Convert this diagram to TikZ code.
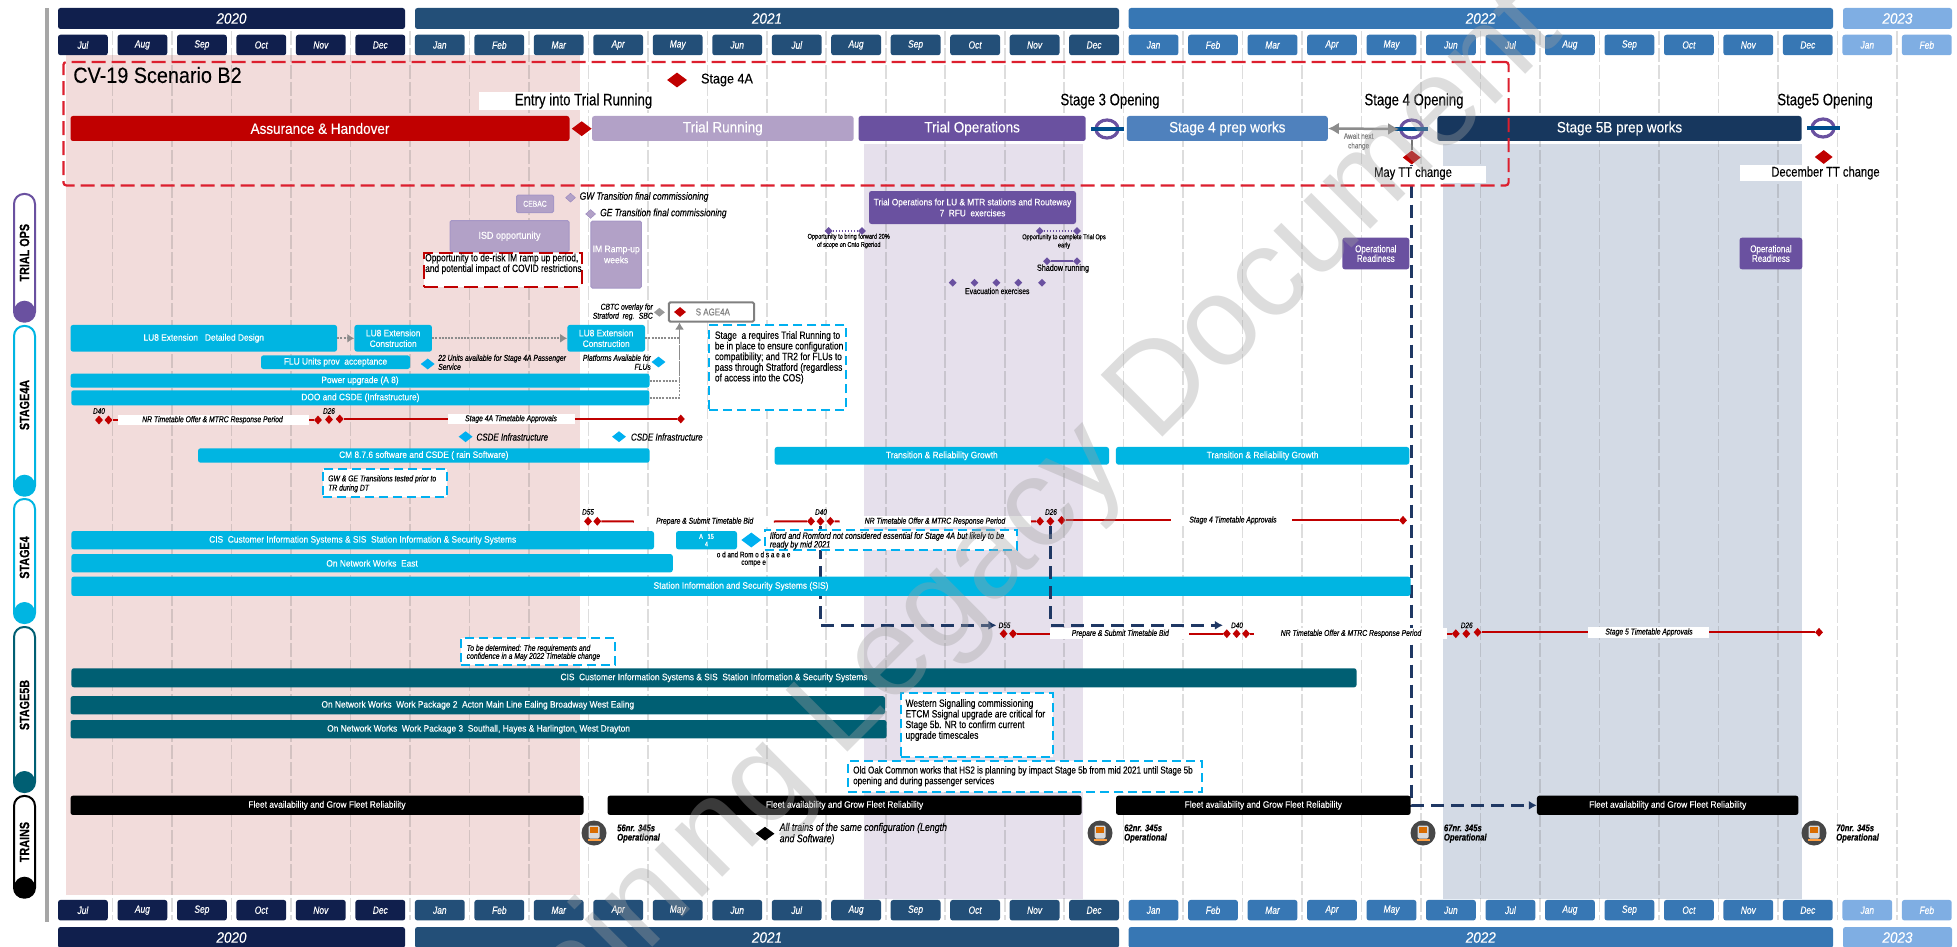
\documentclass[tikz,border=0pt]{standalone}
\usepackage{xcolor}
\usepackage{fontspec}
\setmainfont[FakeStretch=0.9,FakeBold=0.25]{Liberation Sans}
\newfontfamily\narrowfont[FakeStretch=0.8,FakeBold=0.25]{Liberation Sans}
\newfontfamily\markfont{Liberation Sans}
\usetikzlibrary{positioning, shapes.geometric, arrows.meta, calc}

\definecolor{yearone}{HTML}{101F4D}
\definecolor{yeartwo}{HTML}{234F78}
\definecolor{yearthree}{HTML}{3777B4}
\definecolor{yearfour}{HTML}{7FAEE3}
\definecolor{dashred}{HTML}{DC1F2E}
\definecolor{deepred}{HTML}{C00000}
\definecolor{lavender}{HTML}{B2A1C7}
\definecolor{deeppurple}{HTML}{6A51A0}
\definecolor{prepblue}{HTML}{4F81BD}
\definecolor{prepnavy}{HTML}{17375E}
\definecolor{cyanbar}{HTML}{00B5E2}
\definecolor{notecyan}{HTML}{00B0F0}
\definecolor{tealbar}{HTML}{005F73}
\definecolor{pinkzone}{HTML}{F2DCDB}
\definecolor{lilaczone}{HTML}{E6E0EC}
\definecolor{slatezone}{HTML}{D3DAE5}
\definecolor{linenavy}{HTML}{1F3864}

\tikzset{
	monthbox/.style={rectangle, rounded corners=2.5, minimum width=49.8, minimum height=20.5, inner sep=0, text=white, font=\narrowfont\itshape\fontsize{10.5}{10.5}\selectfont},
	yearbox/.style={rectangle, rounded corners=2.5, minimum height=21, inner sep=0, text=white, font=\itshape\fontsize{15}{15}\selectfont},
	gridline/.style={draw=black!60, opacity=0.22, line width=1.6, dash pattern=on 14pt off 3pt},
	phasebar/.style={rectangle, rounded corners=2.5, minimum height=25, inner sep=0, text=white, font=\fontsize{15}{15}\selectfont},
	workbar/.style={rectangle, rounded corners=2.5, inner sep=0, text=white, align=center, font=\fontsize{9.3}{10.6}\selectfont},
	headtext/.style={inner sep=0, font=\narrowfont\fontsize{16.5}{16.5}\selectfont},
	changetext/.style={inner sep=0, font=\narrowfont\fontsize{14}{14}\selectfont},
	whitemask/.style={rectangle, fill=white, inner sep=0},
	notetext/.style={inner sep=0, align=left, font=\narrowfont\fontsize{10.5}{10.65}\selectfont},
	smalltext/.style={inner sep=0, align=left, font=\narrowfont\itshape\fontsize{8.5}{9}\selectfont},
	tinytext/.style={inner sep=0, align=center, font=\narrowfont\fontsize{7}{8.2}\selectfont},
	cyannote/.style={rectangle, fill=white, draw=notecyan, line width=2, dash pattern=on 9pt off 5pt, inner sep=0},
	reddash/.style={rectangle, draw=dashred, line width=2.2, dash pattern=on 14pt off 6pt, inner sep=0, rounded corners=3},
	bigdiamond/.style={diamond, fill=deepred, inner sep=0, minimum width=20, minimum height=15},
	redtick/.style={diamond, fill=deepred, inner sep=0, minimum width=8, minimum height=9},
	cyandiamond/.style={diamond, fill=notecyan, inner sep=0, minimum width=14, minimum height=11},
	lilacdiamond/.style={diamond, fill=lavender, draw=deeppurple!70, inner sep=0, minimum width=10, minimum height=9},
	purpletick/.style={diamond, fill=deeppurple, inner sep=0, minimum width=8, minimum height=8},
	redline/.style={draw=deepred, line width=2},
	navydash/.style={draw=linenavy, line width=2.5, dash pattern=on 13pt off 7pt, -{Latex[length=8pt,width=9pt]}},
	dotgrey/.style={draw=black!45, line width=1.8, dash pattern=on 2pt off 1.2pt},
	ringnode/.style={ellipse, draw=deeppurple, line width=3.2, fill=white, inner sep=0, minimum width=22, minimum height=18},
	ringbar/.style={rectangle, fill=blue!45!cyan!55!black, inner sep=0, minimum width=33, minimum height=4.5},
	rowcap/.style={rectangle, rounded corners=10, fill=white, line width=2, minimum width=21, inner sep=0},
	rowdot/.style={circle, inner sep=0, minimum size=21},
	rowtext/.style={rotate=90, inner sep=0, font=\narrowfont\bfseries\fontsize{13.5}{13.5}\selectfont},
	trainround/.style={circle, fill=black!72, inner sep=0, minimum size=25},
	trainbody/.style={rectangle, rounded corners=1.5, fill=white!85!black, inner sep=0, minimum width=11, minimum height=13},
	trainglass/.style={rectangle, fill=orange!85!black, inner sep=0, minimum width=8, minimum height=6},
	trainfoot/.style={rectangle, fill=orange!75!white, inner sep=0, minimum width=13, minimum height=1.8},
	fleettext/.style={inner sep=0, align=left, font=\narrowfont\bfseries\itshape\fontsize{9.6}{9.3}\selectfont},
	markmark/.style={inner sep=2, font=\narrowfont\itshape\fontsize{8}{8}\selectfont},
}

\begin{document}
\begin{tikzpicture}[x=1pt, y=-1pt]
	\useasboundingbox (0,0) rectangle (1957,947);
	\clip (0,0) rectangle (1957,947);
	% shaded periods
	\fill[pinkzone] (66,55) rectangle (579.5,895);
	\fill[lilaczone] (864,144) rectangle (1082.6,899);
	\fill[slatezone] (1443,144) rectangle (1801.5,899);
	% month lines
	\draw[gridline] (112.5,31) -- (112.5,920);
	\draw[gridline] (172,31) -- (172,920);
	\draw[gridline] (231.4,31) -- (231.4,920);
	\draw[gridline] (290.9,31) -- (290.9,920);
	\draw[gridline] (350.4,31) -- (350.4,920);
	\draw[gridline] (409.9,31) -- (409.9,920);
	\draw[gridline] (469.4,31) -- (469.4,920);
	\draw[gridline] (528.8,31) -- (528.8,920);
	\draw[gridline] (588.3,31) -- (588.3,920);
	\draw[gridline] (647.8,31) -- (647.8,920);
	\draw[gridline] (707.3,31) -- (707.3,920);
	\draw[gridline] (766.8,31) -- (766.8,920);
	\draw[gridline] (826.2,31) -- (826.2,920);
	\draw[gridline] (885.7,31) -- (885.7,920);
	\draw[gridline] (945.2,31) -- (945.2,920);
	\draw[gridline] (1004.7,31) -- (1004.7,920);
	\draw[gridline] (1064.2,31) -- (1064.2,920);
	\draw[gridline] (1123.6,31) -- (1123.6,920);
	\draw[gridline] (1183.1,31) -- (1183.1,920);
	\draw[gridline] (1242.6,31) -- (1242.6,920);
	\draw[gridline] (1302.1,31) -- (1302.1,920);
	\draw[gridline] (1361.6,31) -- (1361.6,920);
	\draw[gridline] (1421,31) -- (1421,920);
	\draw[gridline] (1480.5,31) -- (1480.5,920);
	\draw[gridline] (1540,31) -- (1540,920);
	\draw[gridline] (1599.5,31) -- (1599.5,920);
	\draw[gridline] (1659,31) -- (1659,920);
	\draw[gridline] (1718.4,31) -- (1718.4,920);
	\draw[gridline] (1777.9,31) -- (1777.9,920);
	\draw[gridline] (1837.4,31) -- (1837.4,920);
	\draw[gridline] (1896.9,31) -- (1896.9,920);
	\fill[black!35] (45.3,8) rectangle (48.7,921.7);
	% years
	\node[yearbox, fill=yearone, minimum width=347] (ytop20) at (231.5,18.5) {2020};
	\node[yearbox, fill=yeartwo, minimum width=704] (ytop21) at (767,18.5) {2021};
	\node[yearbox, fill=yearthree, minimum width=704.4] (ytop22) at (1480.8,18.5) {2022};
	\node[yearbox, fill=yearfour, minimum width=109] (ytop23) at (1897.5,18.5) {2023};
	\node[yearbox, fill=yearone, minimum width=347] (ybot20) at (231.5,937.5) {2020};
	\node[yearbox, fill=yeartwo, minimum width=704] (ybot21) at (767,937.5) {2021};
	\node[yearbox, fill=yearthree, minimum width=704.4] (ybot22) at (1480.8,937.5) {2022};
	\node[yearbox, fill=yearfour, minimum width=109] (ybot23) at (1897.5,937.5) {2023};
	% months, top row
	\node[monthbox, fill=yearone] (t00) at (82.9,45) {Jul};
	\node[monthbox, fill=yearone] (t01) at (142.4,45) {Aug};
	\node[monthbox, fill=yearone] (t02) at (201.9,45) {Sep};
	\node[monthbox, fill=yearone] (t03) at (261.3,45) {Oct};
	\node[monthbox, fill=yearone] (t04) at (320.8,45) {Nov};
	\node[monthbox, fill=yearone] (t05) at (380.3,45) {Dec};
	\node[monthbox, fill=yeartwo] (t06) at (439.8,45) {Jan};
	\node[monthbox, fill=yeartwo] (t07) at (499.3,45) {Feb};
	\node[monthbox, fill=yeartwo] (t08) at (558.7,45) {Mar};
	\node[monthbox, fill=yeartwo] (t09) at (618.2,45) {Apr};
	\node[monthbox, fill=yeartwo] (t10) at (677.7,45) {May};
	\node[monthbox, fill=yeartwo] (t11) at (737.2,45) {Jun};
	\node[monthbox, fill=yeartwo] (t12) at (796.7,45) {Jul};
	\node[monthbox, fill=yeartwo] (t13) at (856.1,45) {Aug};
	\node[monthbox, fill=yeartwo] (t14) at (915.6,45) {Sep};
	\node[monthbox, fill=yeartwo] (t15) at (975.1,45) {Oct};
	\node[monthbox, fill=yeartwo] (t16) at (1034.6,45) {Nov};
	\node[monthbox, fill=yeartwo] (t17) at (1094.1,45) {Dec};
	\node[monthbox, fill=yearthree] (t18) at (1153.5,45) {Jan};
	\node[monthbox, fill=yearthree] (t19) at (1213,45) {Feb};
	\node[monthbox, fill=yearthree] (t20) at (1272.5,45) {Mar};
	\node[monthbox, fill=yearthree] (t21) at (1332,45) {Apr};
	\node[monthbox, fill=yearthree] (t22) at (1391.5,45) {May};
	\node[monthbox, fill=yearthree] (t23) at (1450.9,45) {Jun};
	\node[monthbox, fill=yearthree] (t24) at (1510.4,45) {Jul};
	\node[monthbox, fill=yearthree] (t25) at (1569.9,45) {Aug};
	\node[monthbox, fill=yearthree] (t26) at (1629.4,45) {Sep};
	\node[monthbox, fill=yearthree] (t27) at (1688.9,45) {Oct};
	\node[monthbox, fill=yearthree] (t28) at (1748.3,45) {Nov};
	\node[monthbox, fill=yearthree] (t29) at (1807.8,45) {Dec};
	\node[monthbox, fill=yearfour] (t30) at (1867.3,45) {Jan};
	\node[monthbox, fill=yearfour] (t31) at (1926.8,45) {Feb};
	% months, bottom row
	\node[monthbox, fill=yearone] (b00) at (82.9,910.2) {Jul};
	\node[monthbox, fill=yearone] (b01) at (142.4,910.2) {Aug};
	\node[monthbox, fill=yearone] (b02) at (201.9,910.2) {Sep};
	\node[monthbox, fill=yearone] (b03) at (261.3,910.2) {Oct};
	\node[monthbox, fill=yearone] (b04) at (320.8,910.2) {Nov};
	\node[monthbox, fill=yearone] (b05) at (380.3,910.2) {Dec};
	\node[monthbox, fill=yeartwo] (b06) at (439.8,910.2) {Jan};
	\node[monthbox, fill=yeartwo] (b07) at (499.3,910.2) {Feb};
	\node[monthbox, fill=yeartwo] (b08) at (558.7,910.2) {Mar};
	\node[monthbox, fill=yeartwo] (b09) at (618.2,910.2) {Apr};
	\node[monthbox, fill=yeartwo] (b10) at (677.7,910.2) {May};
	\node[monthbox, fill=yeartwo] (b11) at (737.2,910.2) {Jun};
	\node[monthbox, fill=yeartwo] (b12) at (796.7,910.2) {Jul};
	\node[monthbox, fill=yeartwo] (b13) at (856.1,910.2) {Aug};
	\node[monthbox, fill=yeartwo] (b14) at (915.6,910.2) {Sep};
	\node[monthbox, fill=yeartwo] (b15) at (975.1,910.2) {Oct};
	\node[monthbox, fill=yeartwo] (b16) at (1034.6,910.2) {Nov};
	\node[monthbox, fill=yeartwo] (b17) at (1094.1,910.2) {Dec};
	\node[monthbox, fill=yearthree] (b18) at (1153.5,910.2) {Jan};
	\node[monthbox, fill=yearthree] (b19) at (1213,910.2) {Feb};
	\node[monthbox, fill=yearthree] (b20) at (1272.5,910.2) {Mar};
	\node[monthbox, fill=yearthree] (b21) at (1332,910.2) {Apr};
	\node[monthbox, fill=yearthree] (b22) at (1391.5,910.2) {May};
	\node[monthbox, fill=yearthree] (b23) at (1450.9,910.2) {Jun};
	\node[monthbox, fill=yearthree] (b24) at (1510.4,910.2) {Jul};
	\node[monthbox, fill=yearthree] (b25) at (1569.9,910.2) {Aug};
	\node[monthbox, fill=yearthree] (b26) at (1629.4,910.2) {Sep};
	\node[monthbox, fill=yearthree] (b27) at (1688.9,910.2) {Oct};
	\node[monthbox, fill=yearthree] (b28) at (1748.3,910.2) {Nov};
	\node[monthbox, fill=yearthree] (b29) at (1807.8,910.2) {Dec};
	\node[monthbox, fill=yearfour] (b30) at (1867.3,910.2) {Jan};
	\node[monthbox, fill=yearfour] (b31) at (1926.8,910.2) {Feb};
	% row labels on the left
	\node[rowcap, draw=deeppurple, minimum height=127.7] (capops) at (24.5,257.8) {};
	\node[rowdot, fill=deeppurple] (dotops) at (24.5,311.2) {};
	\node[rowtext] (txtops) at (24.5,252.7) {TRIAL OPS};
	\node[rowcap, draw=cyanbar, minimum height=169.7] (cap4a) at (24.5,410.8) {};
	\node[rowdot, fill=cyanbar] (dot4a) at (24.5,485.2) {};
	\node[rowtext] (txt4a) at (24.5,405) {STAGE4A};
	\node[rowcap, draw=cyanbar, minimum height=124] (cap4) at (24.5,561) {};
	\node[rowdot, fill=cyanbar] (dot4) at (24.5,612.5) {};
	\node[rowtext] (txt4) at (24.5,557.5) {STAGE4};
	\node[rowcap, draw=tealbar, minimum height=165] (cap5b) at (24.5,709.5) {};
	\node[rowdot, fill=tealbar] (dot5b) at (24.5,781.5) {};
	\node[rowtext] (txt5b) at (24.5,705) {STAGE5B};
	\node[rowcap, draw=black, minimum height=101.7] (captr) at (24.5,846.8) {};
	\node[rowdot, fill=black] (dottr) at (24.5,887.2) {};
	\node[rowtext] (txttr) at (24.5,842) {TRAINS};
	% header phases
	\node[inner sep=0, font=\fontsize{22}{22}\selectfont] (scentitle) at (157.5,75) {CV-19 Scenario B2};
	\node[bigdiamond] (ms4a) at (677,80) {};
	\node[headtext, font=\fontsize{14}{14}\selectfont] (txt4ahead) at (727,80) {Stage 4A};
	\node[whitemask, minimum width=176.4, minimum height=18] (entrymask) at (566.8,101) {};
	\node[headtext] (entrytxt) at (583.5,101) {Entry into Trial Running};
	\node[phasebar, fill=deepred, minimum width=499] (assure) at (320,128.5) {Assurance \& Handover};
	\node[bigdiamond] (msentry) at (581.7,128.7) {};
	\node[phasebar, fill=lavender, minimum width=261.6] (trialrun) at (722.8,128.5) {Trial Running};
	\node[phasebar, fill=deeppurple, minimum width=227.2] (trialops) at (972.1,128.5) {Trial Operations};
	\node[ringnode] (ringa) at (1107,129) {};
	\node[ringbar] (bara) at (1107,129) {};
	\node[phasebar, fill=prepblue, minimum width=200.9] (prep4) at (1227.3,128.5) {Stage 4 prep works};
	\node[ringnode] (ringb) at (1411.7,129) {};
	\node[ringbar] (barb) at (1411.7,129) {};
	\node[phasebar, fill=prepnavy, minimum width=364.1] (prep5) at (1619.5,128.5) {Stage 5B prep works};
	\node[ringnode] (ringc) at (1823,128) {};
	\node[ringbar] (barc) at (1823,128) {};
	\node[headtext] (open3) at (1110,101) {Stage 3 Opening};
	\node[headtext] (open4) at (1414,101) {Stage 4 Opening};
	\node[headtext] (open5) at (1825,101) {Stage5 Opening};
	\draw[draw=black!45, line width=2.5, {Latex[length=11pt,width=12pt]}-{Latex[length=11pt,width=12pt]}] (prep4.east) -- (ringb.west);
	\node[tinytext, text=black!50, font=\narrowfont\fontsize{8}{9.6}\selectfont] (awaittxt) at (1358.6,141.5) {Await next\\change};
	\node[bigdiamond, minimum width=18, minimum height=14] (msmay) at (1411.7,157.5) {};
	\node[bigdiamond, minimum width=18, minimum height=14] (msdec) at (1823.7,157) {};
	\draw[draw=black!55, line width=2] (ringb.south) -- (msmay.north);
	% timetable changes and links down to the fleet
	\node[workbar, fill=black, minimum width=261.5, minimum height=19.3] (fleetd) at (1667.7,805.3) {Fleet availability and Grow Fleet Reliability};
	\draw[navydash] (msmay.south) |- (fleetd.west);
	\node[whitemask, minimum width=111, minimum height=17] (maymask) at (1430.5,174) {};
	\node[changetext] (maytxt) at (1413,173.3) {May TT change};
	\node[whitemask, minimum width=155, minimum height=16] (decmask) at (1817.5,173) {};
	\node[changetext] (dectxt) at (1825.5,173) {December TT change};
	% trial ops row
	\node[rectangle, rounded corners=1.5, fill=lavender, draw=deeppurple!60, line width=1, minimum width=37, minimum height=17.5, inner sep=0, text=white, font=\narrowfont\fontsize{8.5}{8.5}\selectfont] (cebac) at (535,203.8) {CEBAC};
	\node[lilacdiamond] (msgw) at (570.5,197.7) {};
	\node[smalltext, anchor=west, font=\narrowfont\itshape\fontsize{10.5}{10.5}\selectfont] (txtgw) at (579.5,197) {GW Transition final commissioning};
	\node[lilacdiamond] (msge) at (590.6,214) {};
	\node[smalltext, anchor=west, font=\narrowfont\itshape\fontsize{10.5}{10.5}\selectfont] (txtge) at (600,213.5) {GE Transition final commissioning};
	\node[rectangle, rounded corners=1.5, fill=lavender, draw=deeppurple!60, line width=1, minimum width=119, minimum height=31, inner sep=0, text=white, font=\fontsize{10}{10}\selectfont] (isdbox) at (509.5,236.2) {ISD opportunity};
	\node[rectangle, rounded corners=1.5, fill=lavender, draw=deeppurple!60, line width=1, minimum width=50.5, minimum height=67, inner sep=0, text=white, align=center, font=\fontsize{9.5}{11}\selectfont] (imbox) at (616.2,254.5) {IM Ramp-up\\weeks};
	\node[reddash, fill=white, draw=deepred, minimum width=157.7, minimum height=33.4, rounded corners=0] (isdnote) at (502.9,270) {};
	\node[notetext, anchor=north west] (isdtxt) at (425,253.5) {Opportunity to de-risk IM ramp up period,\\and potential impact of COVID restrictions};
	\node[workbar, fill=deeppurple, minimum width=207, minimum height=33, font=\fontsize{9.2}{11}\selectfont] (opsnote) at (972.5,207.5) {Trial Operations for LU \& MTR stations and Routeway\\7 \ RFU \ exercises};
	\node[purpletick] (oppa) at (828.6,231) {};
	\node[purpletick] (oppb) at (862,231) {};
	\draw[draw=deeppurple, line width=1.5, dash pattern=on 1.5pt off 1.5pt] (oppa) -- (oppb);
	\node[tinytext] (opptxta) at (848.7,241) {Opportunity to bring forward 20\%\\of scope on Cnto Rgeriod};
	\node[purpletick] (oppc) at (1039.7,231) {};
	\node[purpletick] (oppd) at (1077,231) {};
	\draw[draw=deeppurple, line width=1.5, dash pattern=on 1.5pt off 1.5pt] (oppc) -- (oppd);
	\node[tinytext] (opptxtb) at (1064,241.5) {Opportunity to complete Trial Ops\\early};
	\node[purpletick] (shada) at (1047,261.3) {};
	\node[purpletick] (shadb) at (1077,261.3) {};
	\draw[draw=deeppurple, line width=2] (shada) -- (shadb);
	\node[tinytext, font=\narrowfont\fontsize{9}{9}\selectfont] (shadtxt) at (1063,268.5) {Shadow running};
	\node[purpletick] (evaca) at (952.7,282.7) {};
	\node[purpletick] (evacb) at (974.5,282.7) {};
	\node[purpletick] (evacc) at (996.4,282.7) {};
	\node[purpletick] (evacd) at (1018.3,282.7) {};
	\node[purpletick] (evace) at (1042,282.7) {};
	\node[tinytext, font=\narrowfont\fontsize{8.5}{8.5}\selectfont] (evactxt) at (997.3,291) {Evacuation exercises};
	\node[workbar, fill=deeppurple, minimum width=67, minimum height=31.6, font=\narrowfont\fontsize{10}{9.6}\selectfont] (readya) at (1375.8,253.5) {Operational\\Readiness};
	\node[workbar, fill=deeppurple, minimum width=62.8, minimum height=31.6, font=\narrowfont\fontsize{10}{9.6}\selectfont] (readyb) at (1770.9,253.5) {Operational\\Readiness};
	% stage 4a row
	\node[smalltext, anchor=east, align=right] (cbtctxt) at (653,312) {CBTC overlay for\\Stratford \ reg. \ SBC};
	\node[diamond, fill=black!40, inner sep=0, minimum width=11, minimum height=9] (cbtcms) at (659.4,312.3) {};
	\node[rectangle, rounded corners=1.5, fill=white, draw=black!50, line width=2, minimum width=85.2, minimum height=19.4, inner sep=0] (stagebox) at (711.4,312) {};
	\node[redtick, minimum width=12, minimum height=10] (stagems) at (680,312) {};
	\node[inner sep=0, anchor=west, text=black!50, font=\narrowfont\fontsize{10}{10}\selectfont] (stagetxt) at (695.5,312) {S AGE4A};
	\coordinate (stagein) at (679.5,322.5);
	\node[workbar, fill=cyanbar, minimum width=266.5, minimum height=26.7] (lu8a) at (203.8,338.3) {LU8 Extension \ \ Detailed Design};
	\node[workbar, fill=cyanbar, minimum width=77.5, minimum height=26.7] (lu8b) at (393.2,338.3) {LU8 Extension\\Construction};
	\node[workbar, fill=cyanbar, minimum width=77.6, minimum height=26.7] (lu8c) at (606.2,338.3) {LU8 Extension\\Construction};
	\draw[dotgrey, -{Latex[length=7pt,width=9pt]}] (lu8a) -- (lu8b);
	\draw[dotgrey, -{Latex[length=7pt,width=9pt]}] (lu8b) -- (lu8c);
	\node[workbar, fill=cyanbar, minimum width=149, minimum height=13.7] (flubar) at (335.5,362.2) {FLU Units prov \ acceptance};
	\node[cyandiamond] (msfluA) at (427.7,364) {};
	\node[smalltext, anchor=west] (fluAtxt) at (438,362.3) {22 Units available for Stage 4A Passenger\\Service};
	\node[smalltext, anchor=east, align=right] (fluBtxt) at (651,362.3) {Platforms Available for\\FLUs};
	\node[cyandiamond] (msfluB) at (658.5,362) {};
	\node[workbar, fill=cyanbar, minimum width=579, minimum height=14] (powerbar) at (360,380.7) {Power upgrade (A 8)};
	\node[workbar, fill=cyanbar, minimum width=578.1, minimum height=15] (doobar) at (360.4,397.8) {DOO and CSDE (Infrastructure)};
	\draw[dotgrey] (lu8c.east) -| (stagein);
	\draw[dotgrey] (powerbar.east) -| (stagein);
	\draw[dotgrey, -{Latex[length=7pt,width=9pt]}] (doobar.east) -| (stagein);
	\node[markmark] (d40a) at (99,411) {D40};
	\node[markmark] (d26a) at (329,411) {D26};
	\node[redtick] (ra1) at (99,420) {};
	\node[redtick] (ra2) at (108.5,420) {};
	\node[whitemask, minimum width=191, minimum height=10.5] (lbla) at (213.5,420) {};
	\node[smalltext] (lblatxt) at (212.5,420) {NR Timetable Offer \& MTRC Response Period};
	\node[redtick] (ra3) at (318,420) {};
	\node[redtick] (ra4) at (329,419.5) {};
	\node[redtick] (ra5) at (339.7,419) {};
	\node[whitemask, minimum width=126.7, minimum height=10.5] (lblb) at (511.2,419) {};
	\node[smalltext] (lblbtxt) at (511,419) {Stage 4A Timetable Approvals};
	\node[redtick] (ra6) at (680.8,419) {};
	\draw[redline] (ra2) -- (lbla.west);
	\draw[redline] (lbla.east) -- (ra3);
	\draw[redline] (ra5) -- (lblb.west);
	\draw[redline] (lblb.east) -- (ra6);
	\node[cyandiamond] (mscsa) at (465.6,436.7) {};
	\node[smalltext, anchor=west, font=\narrowfont\itshape\fontsize{10}{10}\selectfont] (cstxta) at (476.3,437) {CSDE Infrastructure};
	\node[cyandiamond] (mscsb) at (619,436.7) {};
	\node[smalltext, anchor=west, font=\narrowfont\itshape\fontsize{10}{10}\selectfont] (cstxtb) at (630.8,437) {CSDE Infrastructure};
	\node[workbar, fill=cyanbar, minimum width=451.5, minimum height=14.4] (cmbar) at (423.8,455.5) {CM 8.7.6 software and CSDE ( rain Software)};
	\node[workbar, fill=cyanbar, minimum width=334.4, minimum height=17.7] (relya) at (941.8,455.8) {Transition \& Reliability Growth};
	\node[workbar, fill=cyanbar, minimum width=293.3, minimum height=17.7] (relyb) at (1262.6,455.8) {Transition \& Reliability Growth};
	\node[cyannote, minimum width=124.5, minimum height=27.7] (gwnote) at (385,482.8) {};
	\node[smalltext, anchor=north west, font=\narrowfont\itshape\fontsize{8.5}{9.3}\selectfont] (gwtxt) at (328,475) {GW \& GE Transitions tested prior to\\TR during DT};
	\node[cyannote, minimum width=137, minimum height=85] (cfgnote) at (777.9,367.5) {};
	\node[notetext, anchor=north west] (cfgtxt) at (714.7,331) {Stage \ a requires Trial Running to\\be in place to ensure configuration\\compatibility; and TR2 for FLUs to\\pass through Stratford (regardless\\of access into the COS)};
	% stage 4 row
	\node[markmark] (d55b) at (588,512) {D55};
	\node[markmark] (d40b) at (821,512) {D40};
	\node[markmark] (d26b) at (1051,512) {D26};
	\node[redtick] (rb1) at (588,521.3) {};
	\node[redtick] (rb2) at (597.3,521.3) {};
	\node[whitemask, minimum width=139.7, minimum height=11] (lblc) at (703.9,521.5) {};
	\node[smalltext] (lblctxt) at (704.7,521.5) {Prepare \& Submit Timetable Bid};
	\node[redtick] (rb3) at (811,521.3) {};
	\node[redtick] (rb4) at (820.5,521.3) {};
	\node[redtick] (rb5) at (830.4,521.3) {};
	\node[whitemask, minimum width=191, minimum height=11] (lbld) at (935.3,521.5) {};
	\node[smalltext] (lbldtxt) at (935,521.5) {NR Timetable Offer \& MTRC Response Period};
	\node[redtick] (rb6) at (1040,521.3) {};
	\node[redtick] (rb7) at (1050.4,521.3) {};
	\node[redtick] (rb8) at (1061.6,520.3) {};
	\node[whitemask, minimum width=120.6, minimum height=11] (lble) at (1231.7,520.3) {};
	\node[smalltext] (lbletxt) at (1233,520.3) {Stage 4 Timetable Approvals};
	\node[redtick] (rb9) at (1403,520.3) {};
	\draw[redline] (rb2) -- (lblc.west);
	\draw[redline] (lblc.east) -- (rb3);
	\draw[redline] (rb5) -- (lbld.west);
	\draw[redline] (lbld.east) -- (rb6);
	\draw[redline] (rb8) -- (lble.west);
	\draw[redline] (lble.east) -- (rb9);
	\node[markmark] (d55c) at (1004.5,625.3) {D55};
	\node[markmark] (d40c) at (1237,625.3) {D40};
	\node[markmark] (d26c) at (1466.7,625.3) {D26};
	\draw[navydash] (rb4.south) |- (d55c.west);
	\node[workbar, fill=cyanbar, minimum width=582.6, minimum height=18.3] (cisbar) at (362.7,540.2) {CIS \ Customer Information Systems \& SIS \ Station Information \& Security Systems};
	\node[workbar, fill=cyanbar, minimum width=61, minimum height=18.3, font=\narrowfont\fontsize{7}{7.6}\selectfont] (aabar) at (706.5,540.2) {A \ \ 15\\4};
	\node[diamond, fill=notecyan, inner sep=0, minimum width=20, minimum height=15] (msil) at (751.3,540) {};
	\node[tinytext, font=\narrowfont\fontsize{8}{7.5}\selectfont] (iltxt) at (753.6,559) {o d and Rom o d s a e a e\\compe e};
	\node[cyannote, minimum width=252.3, minimum height=20] (ilnote) at (890.8,540) {};
	\node[smalltext, anchor=north west, font=\narrowfont\itshape\fontsize{9.2}{8.6}\selectfont] (iltxtb) at (769.6,532) {Ilford and Romford not considered essential for Stage 4A but likely to be\\ready by mid 2021};
	\node[workbar, fill=cyanbar, minimum width=601.4, minimum height=18.3] (netbar) at (372.1,563.2) {On Network Works \ East};
	\node[workbar, fill=cyanbar, minimum width=1339.2, minimum height=19.3] (sisbar) at (741,586.3) {Station Information and Security Systems (SIS)};
	\draw[navydash, shorten >=6pt] (rb7.south) |- (d40c.west);
	% stage 5b row
	\node[redtick] (rc1) at (1003.6,633.7) {};
	\node[redtick] (rc2) at (1013,633.7) {};
	\node[whitemask, minimum width=138.6, minimum height=11] (lblf) at (1119.7,633.7) {};
	\node[smalltext] (lblftxt) at (1120.3,633.7) {Prepare \& Submit Timetable Bid};
	\node[redtick] (rc3) at (1226.8,633.7) {};
	\node[redtick] (rc4) at (1236.6,633.7) {};
	\node[redtick] (rc5) at (1246,633.7) {};
	\node[whitemask, minimum width=192, minimum height=11] (lblg) at (1350.6,633.7) {};
	\node[smalltext] (lblgtxt) at (1351,633.7) {NR Timetable Offer \& MTRC Response Period};
	\node[redtick] (rc6) at (1455.8,633.7) {};
	\node[redtick] (rc7) at (1466.3,633.7) {};
	\node[redtick] (rc8) at (1477.6,632.3) {};
	\node[whitemask, minimum width=120.5, minimum height=11] (lblh) at (1648.3,632.3) {};
	\node[smalltext] (lblhtxt) at (1649,632.3) {Stage 5 Timetable Approvals};
	\node[redtick] (rc9) at (1819,632.3) {};
	\draw[redline] (rc2) -- (lblf.west);
	\draw[redline] (lblf.east) -- (rc3);
	\draw[redline] (rc5) -- (lblg.west);
	\draw[redline] (lblg.east) -- (rc6);
	\draw[redline] (rc8) -- (lblh.west);
	\draw[redline] (lblh.east) -- (rc9);
	\node[cyannote, minimum width=154.3, minimum height=26.7] (tbdnote) at (537.9,651.7) {};
	\node[smalltext, anchor=north west, font=\narrowfont\itshape\fontsize{8.5}{8}\selectfont] (tbdtxt) at (466.5,644.5) {To be determined: The requirements and\\confidence in a May 2022 Timetable change};
	\node[workbar, fill=tealbar, minimum width=1285.2, minimum height=19] (cisteal) at (714,677.8) {CIS \ Customer Information Systems \& SIS \ Station Information \& Security Systems};
	\node[workbar, fill=tealbar, minimum width=814.5, minimum height=18.3] (wpa) at (477.8,705.2) {On Network Works \ Work Package 2 \ Acton Main Line Ealing Broadway West Ealing};
	\node[workbar, fill=tealbar, minimum width=816.1, minimum height=18.3] (wpb) at (478.6,729.2) {On Network Works \ Work Package 3 \ Southall, Hayes \& Harlington, West Drayton};
	\node[cyannote, minimum width=151.7, minimum height=63.4] (wsnote) at (976.8,725) {};
	\node[notetext, anchor=north west] (wstxt) at (905.4,699) {Western Signalling commissioning\\ETCM Ssignal upgrade are critical for\\Stage 5b. NR to confirm current\\upgrade timescales};
	\node[cyannote, minimum width=354.2, minimum height=30.7] (oocnote) at (1024.9,776.3) {};
	\node[notetext, anchor=north west, font=\narrowfont\fontsize{10.1}{10.65}\selectfont] (ooctxt) at (853,766) {Old Oak Common works that HS2 is planning by impact Stage 5b from mid 2021 until Stage 5b\\opening and during passenger services};
	% trains row
	\node[workbar, fill=black, minimum width=513, minimum height=19.3] (fleeta) at (327,805.3) {Fleet availability and Grow Fleet Reliability};
	\node[workbar, fill=black, minimum width=474.1, minimum height=19.3] (fleetb) at (844.6,805.3) {Fleet availability and Grow Fleet Reliability};
	\node[workbar, fill=black, minimum width=294.6, minimum height=19.3] (fleetc) at (1263.3,805.3) {Fleet availability and Grow Fleet Reliability};
	\node[trainround] (traina) at (594,833) {};
	\node[trainbody] (bodya) at (594,832) {};
	\node[trainglass] (glassa) at (594,830) {};
	\node[trainfoot] (foota) at (594,840) {};
	\node[fleettext, anchor=west] (txta) at (617,833.5) {56nr. 345s\\Operational};
	\node[trainround] (trainb) at (1100,833) {};
	\node[trainbody] (bodyb) at (1100,832) {};
	\node[trainglass] (glassb) at (1100,830) {};
	\node[trainfoot] (footb) at (1100,840) {};
	\node[fleettext, anchor=west] (txtb) at (1124,833.5) {62nr. 345s\\Operational};
	\node[trainround] (trainc) at (1423,833) {};
	\node[trainbody] (bodyc) at (1423,832) {};
	\node[trainglass] (glassc) at (1423,830) {};
	\node[trainfoot] (footc) at (1423,840) {};
	\node[fleettext, anchor=west] (txtc) at (1443.7,833.5) {67nr. 345s\\Operational};
	\node[trainround] (traind) at (1814,833) {};
	\node[trainbody] (bodyd) at (1814,832) {};
	\node[trainglass] (glassd) at (1814,830) {};
	\node[trainfoot] (footd) at (1814,840) {};
	\node[fleettext, anchor=west] (txtd) at (1836,833.5) {70nr. 345s\\Operational};
	\node[diamond, fill=black, inner sep=0, minimum width=19, minimum height=14] (msall) at (765,833.7) {};
	\node[smalltext, anchor=west, font=\narrowfont\itshape\fontsize{11}{9.3}\selectfont] (alltxt) at (779.5,833.7) {All trains of the same configuration (Length\\and Software)};
	% scenario frame and watermark
	\node[reddash, minimum width=1445.2, minimum height=123.5] (scenbox) at (786,123.7) {};
	\node[inner sep=0, anchor=base east, rotate=45, text=black!37, opacity=0.36, font=\markfont\fontsize{127}{127}\selectfont] (watermark) at (1565,35) {Training Legacy Document};
\end{tikzpicture}
\end{document}
